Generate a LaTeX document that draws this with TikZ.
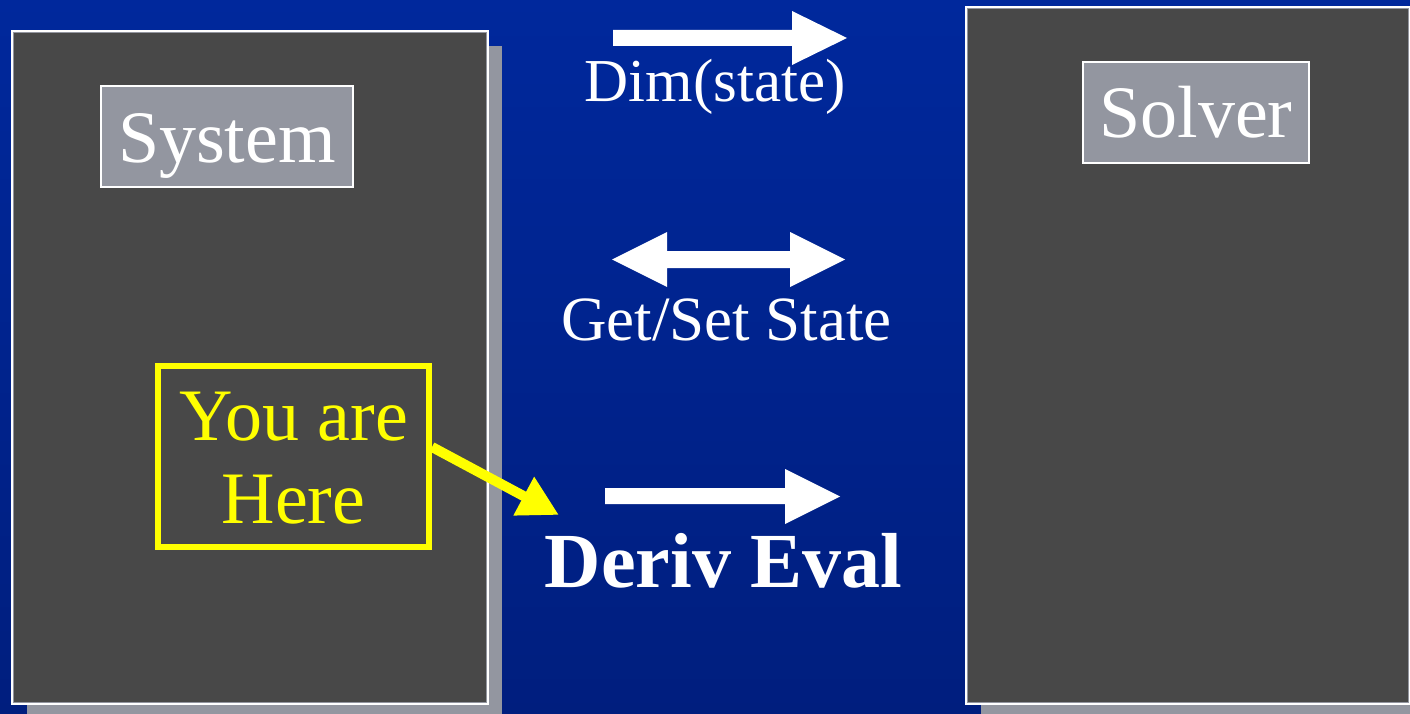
\documentclass[tikz,border=0pt]{standalone}
\usepackage{fontspec}
\setmainfont{Liberation Serif}
\usetikzlibrary{arrows.meta}

\definecolor{slidetop}{RGB}{0,40,156}
\definecolor{slidebottom}{RGB}{0,30,126}
\definecolor{panel}{RGB}{72,72,72}
\definecolor{panelshadow}{RGB}{147,150,160}
\definecolor{hl}{RGB}{255,255,0}

\begin{document}
\begin{tikzpicture}[x=1pt,y=-1pt,
  panelbox/.style={draw=white, line width=2.5pt, fill=panel, inner sep=0pt, anchor=north west},
  shadowbox/.style={fill=panelshadow},
  edgeline/.style={draw=panelshadow, line width=0.8pt},
  titlebox/.style={draw=white, line width=2pt, fill=panelshadow, text=white,
    inner sep=0pt, anchor=base, text depth=0pt, font=\fontsize{74}{80}\selectfont},
  caption/.style={text=white, inner sep=0pt, anchor=base},
  blockarrow/.style={fill=white},
  herebox/.style={draw=hl, line width=6pt, minimum width=271pt, minimum height=181pt, inner sep=0pt},
  heretext/.style={text=hl, inner sep=0pt, anchor=base, font=\fontsize{74}{80}\selectfont},
  pointer/.style={draw=hl, line width=10pt, -{Triangle[width=41pt,length=40pt]}},
]
\useasboundingbox (0,0) rectangle (1410,714);
\clip (0,0) rectangle (1410,714);

% slide background
\fill[top color=slidetop, bottom color=slidebottom] (0,0) rectangle (1410,714);

% system panel with drop shadow
\fill[shadowbox] (27,46) rectangle (502,730);
\node[panelbox, minimum width=475pt, minimum height=672pt] (system) at (11,30) {};
\draw[edgeline] ([xshift=2.2pt,yshift=-2.2pt]system.north west) rectangle ([xshift=-2.2pt,yshift=2.2pt]system.south east);

% solver panel with drop shadow
\fill[shadowbox] (981,22) rectangle (1430,730);
\node[panelbox, minimum width=443pt, minimum height=696pt] (solver) at (965,6) {};
\draw[edgeline] ([xshift=2.2pt,yshift=-2.2pt]solver.north west) rectangle ([xshift=-2.2pt,yshift=2.2pt]solver.south east);

% panel titles
\node[titlebox, minimum width=252pt, minimum height=101pt, text height=53pt] (systitle) at (227,163) {System};
\node[titlebox, minimum width=226pt, minimum height=101pt, text height=51pt] (soltitle) at (1196,138) {Solver};

% messages between the panels
\fill[blockarrow] (613,30) -- (792,30) -- (792,11) -- (847,38) -- (792,65) -- (792,46) -- (613,46) -- cycle;
\node[caption, font=\fontsize{61}{70}\selectfont] (dim) at (715,102) {Dim(state)};

\fill[blockarrow] (612,259.5) -- (667,232) -- (667,251) -- (790,251) -- (790,232) -- (845,259.5)
  -- (790,287) -- (790,268) -- (667,268) -- (667,287) -- cycle;
\node[caption, font=\fontsize{63}{70}\selectfont] (getset) at (726.5,340) {Get/Set State};

\fill[blockarrow] (605,488) -- (785,488) -- (785,469) -- (840,496.5) -- (785,524) -- (785,504) -- (605,504) -- cycle;
\node[caption, font=\bfseries\fontsize{78}{80}\selectfont] (deriv) at (723.5,587) {Deriv Eval};

% highlight marker
\node[herebox] (here) at (293.5,456.5) {};
\node[heretext] (you) at (293.5,440) {You are};
\node[heretext] (herelbl) at (293.5,523) {Here};
\coordinate (evaltip) at (559,515);
\draw[pointer] ([yshift=9.5pt]here.east) -- (evaltip);
\end{tikzpicture}
\end{document}
